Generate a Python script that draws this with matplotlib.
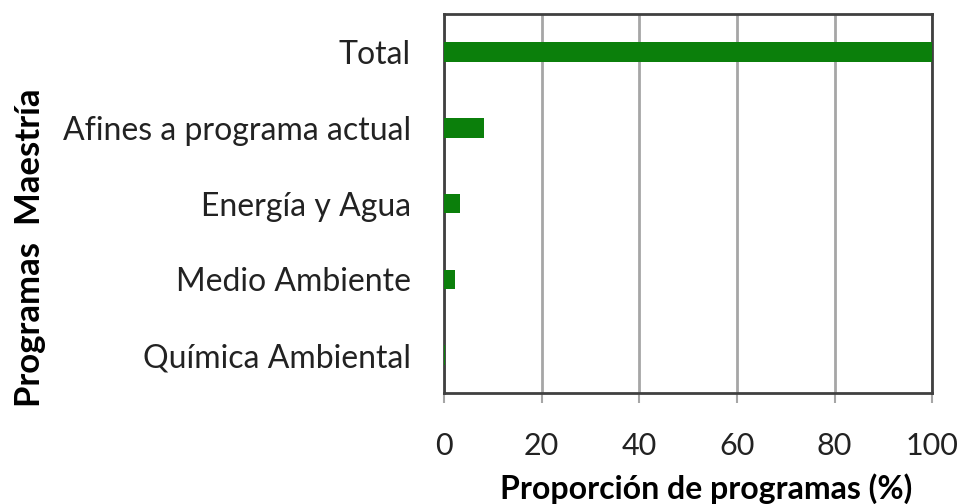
import matplotlib.pyplot as plt

categorias = ['Química Ambiental', 'Medio Ambiente', 'Energía y Agua',
              'Afines a programa actual', 'Total']
proporcion = [0.3, 2.3, 3.2, 8.1, 100]

plt.rcParams['font.family'] = ['Lato', 'DejaVu Sans']

fig = plt.figure(figsize=(9.61, 5.04), dpi=100)
ax = fig.add_axes([0.462, 0.220, 0.508, 0.752])

ax.barh(categorias, proporcion, height=0.26, color='#0b7f0b', zorder=3)

ax.set_xlim(0, 100)
ax.set_ylim(-0.5, 4.5)
ax.set_xticks([0, 20, 40, 60, 80, 100])
ax.grid(axis='x', color='#a6a6a6', linewidth=2, zorder=0)
ax.tick_params(axis='x', direction='out', length=7, width=1.5, color='#a6a6a6',
               labelsize=22, pad=21, labelcolor='#222222')
ax.tick_params(axis='y', length=0, labelsize=23, pad=24, labelcolor='#222222')

for s in ax.spines.values():
    s.set_color('#404040')
    s.set_linewidth(2)

ax.set_xlabel('Proporción de programas (%)', fontsize=23, fontweight='bold')
ax.xaxis.set_label_coords(0.537, -0.212)
ax.set_ylabel('Programas  Maestría', fontsize=25, fontweight='bold', va='center')
ax.yaxis.set_label_coords(-0.848, 0.383)

fig.savefig('out.png', dpi=100)
